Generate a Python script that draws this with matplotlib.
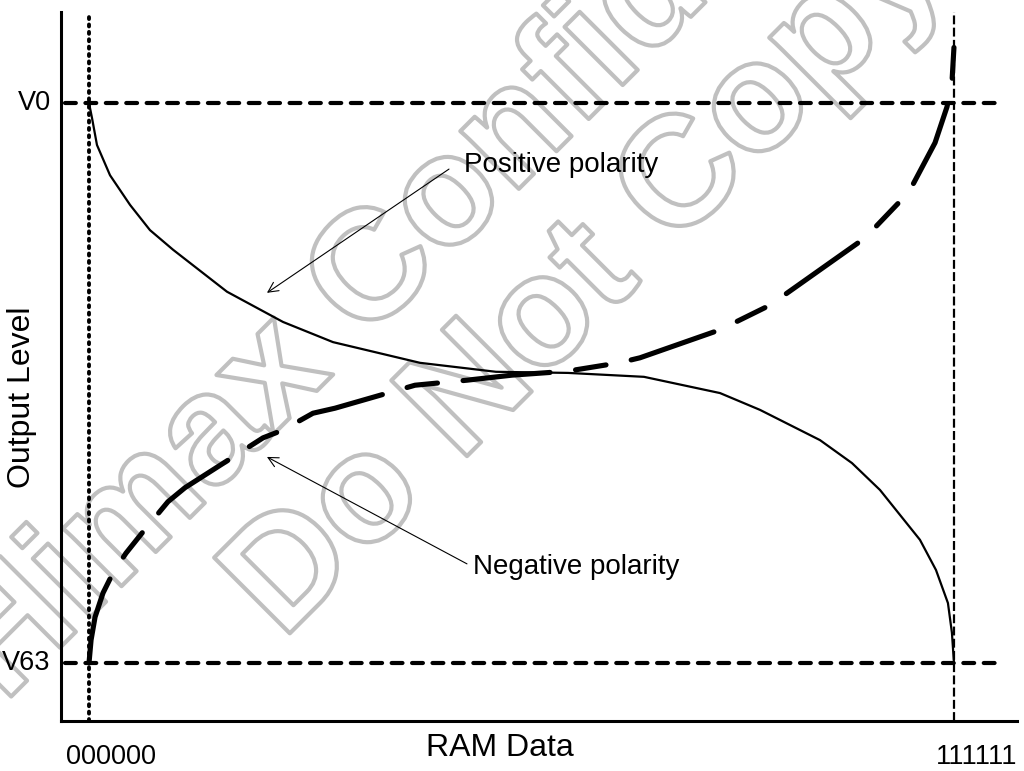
import matplotlib
matplotlib.use("Agg")
import matplotlib.pyplot as plt
import matplotlib.patheffects as pe

plt.rcParams['font.family'] = ['Liberation Sans', 'DejaVu Sans']

# RAM data code (0..63) against output level, V63 = 0 and V0 = 1
pos_code = [0, 0.22, 0.58, 1.53, 2.99, 4.44, 6.12, 10.05, 14.13, 17.77, 24.11, 29.64,
            34.89, 40.42, 45.96, 48.87, 53.24, 55.57, 57.61, 60.52, 61.69, 62.56, 62.85, 63]
pos_level = [1.0, 0.973, 0.925, 0.871, 0.818, 0.773, 0.738, 0.663, 0.609, 0.573, 0.536, 0.520,
             0.518, 0.511, 0.482, 0.452, 0.398, 0.357, 0.309, 0.220, 0.166, 0.107, 0.054, 0.0]

neg_code = [0, 0.15, 0.44, 1.02, 1.75, 2.69, 3.86, 5.75, 6.99, 12.67, 14.13, 16.31, 17.92,
            23.74, 27.53, 30.81, 34.81, 38.60, 40.13, 45.96, 49.60, 56.52, 59.72, 61.62,
            62.49, 62.85, 63.0]
neg_level = [0.0, 0.041, 0.082, 0.125, 0.161, 0.196, 0.232, 0.288, 0.313, 0.402, 0.416, 0.446,
             0.455, 0.496, 0.505, 0.514, 0.521, 0.536, 0.545, 0.595, 0.639, 0.759, 0.841, 0.929,
             0.993, 1.036, 1.1]

ref_levels = [1.0, 0.0]
ref_names = ["V0", "V63"]
code_ends = [0, 63]
code_names = ["000000", "111111"]

fig = plt.figure(figsize=(10.24, 7.71), dpi=100)
ax = fig.add_axes([61 / 1024, 50 / 771, 956 / 1024, 709 / 771])
ax.patch.set_alpha(0)
ax.set_xlim(-2.04, 67.59)
ax.set_ylim(-0.1036, 1.1625)
for s in ['top', 'right']:
    ax.spines[s].set_visible(False)
for s in ['left', 'bottom']:
    ax.spines[s].set_linewidth(2.2)
ax.set_xticks([])
ax.set_yticks([])

# reference levels
for lev, name in zip(ref_levels, ref_names):
    ax.plot([-1.75, 66.2], [lev, lev], color='black', lw=3.0,
            linestyle=(0, (2.6, 2.3)), dash_capstyle='round', zorder=3)
    ax.text(-2.8, lev, name, ha='right', va='center', fontsize=19.5, clip_on=False)

# first / last code markers
ax.plot([code_ends[0]] * 2, [-0.1036, 1.1625], color='black', lw=2.8,
        linestyle=(0, (0.5, 1.4)), dash_capstyle='round', zorder=3)
ax.plot([code_ends[1]] * 2, [-0.1036, 1.1625], color='black', lw=1.6,
        linestyle=(0, (4, 1.5)), zorder=3)
ax.text(-1.67, -0.168, code_names[0], ha='left', va='center', fontsize=19.5, clip_on=False)
ax.text(67.6, -0.168, code_names[1], ha='right', va='center', fontsize=19.5, clip_on=False)

# gamma curves
ax.plot(pos_code, pos_level, color='black', lw=1.6, zorder=4)
ax.plot(neg_code, neg_level, color='black', lw=3.7, linestyle=(0, (17, 5, 6, 5)),
        dash_capstyle='round', solid_capstyle='round', zorder=4)

ax.annotate("", xy=(12.96, 0.661), xytext=(26.22, 0.882),
            arrowprops=dict(arrowstyle='->', lw=0.8, color='black',
                            shrinkA=0, shrinkB=0, mutation_scale=18))
ax.text(27.31, 0.889, "Positive polarity", ha='left', va='center', fontsize=20)
ax.annotate("", xy=(12.96, 0.368), xytext=(27.53, 0.177),
            arrowprops=dict(arrowstyle='->', lw=0.8, color='black',
                            shrinkA=0, shrinkB=0, mutation_scale=18))
ax.text(27.97, 0.171, "Negative polarity", ha='left', va='center', fontsize=20)

ax.text(29.9, -0.152, "RAM Data", ha='center', va='center', fontsize=23, clip_on=False)
ax.text(-4.88, 0.475, "Output Level", ha='center', va='center', rotation=90,
        fontsize=23, clip_on=False)

# outlined watermark, kept behind the axes
for txt, x, y in [("Himax Confidential", 0.462, 0.770), ("Do Not Copy", 0.573, 0.638)]:
    fig.text(x, y, txt, ha='center', va='center', rotation=45, rotation_mode='anchor',
             fontsize=112, fontweight='bold', color='white', zorder=-1,
             path_effects=[pe.Stroke(linewidth=3, foreground='#c0c0c0')])

fig.savefig('out.png', dpi=100)
